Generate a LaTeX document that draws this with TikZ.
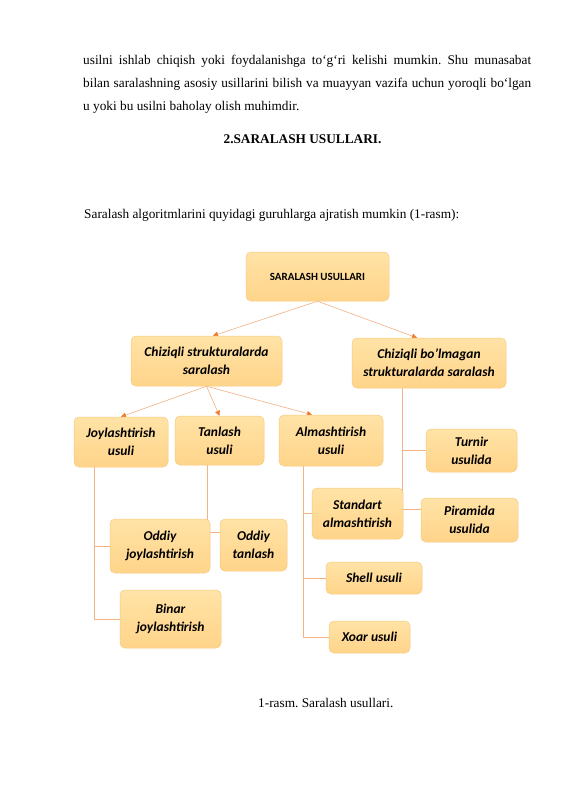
\documentclass[tikz,border=0pt]{standalone}
\usepackage{fontspec}
\setmainfont{Liberation Serif}
\newfontfamily\carlito{Carlito}
\usetikzlibrary{backgrounds,arrows.meta}
\frenchspacing
\definecolor{boxtop}{HTML}{FFE3A6}
\definecolor{boxbot}{HTML}{FFD48A}
\definecolor{boxedge}{HTML}{F8C97E}
\definecolor{linecol}{HTML}{F4B183}
\definecolor{arrcol}{HTML}{ED7D31}
\tikzset{
  box/.style={rounded corners=5pt, top color=boxtop, bottom color=boxbot, draw=boxedge, line width=0.5pt,
    font=\carlito\bfseries\itshape\fontsize{13.5}{18}\selectfont, align=center, inner sep=0pt},
  topbox/.style={box, font=\carlito\bfseries\fontsize{11}{13}\selectfont},
  conn/.style={draw=linecol, line width=0.6pt},
  arr/.style={conn, -{Triangle[length=5pt,width=5pt,fill=arrcol,color=arrcol]}},
  bodytext/.style={font=\fontsize{13.3}{22}\selectfont, inner sep=0pt, anchor=base west}
}
\begin{document}
\begin{tikzpicture}[x=1pt,y=-1pt]
\useasboundingbox (0,0) rectangle (565,800);
\begin{scope}[on background layer]
\fill[white] (0,0) rectangle (565,800);
\end{scope}
% text
\node[bodytext] (l1) at (83,65) {\makebox[448pt][s]{usilni ishlab chiqish yoki foydalanishga to‘g‘ri kelishi mumkin. Shu munasabat}};
\node[bodytext] (l2) at (83,88) {\makebox[448pt][s]{bilan saralashning asosiy usillarini bilish va muayyan vazifa uchun yoroqli bo‘lgan}};
\node[bodytext] (l3) at (83,110) {u yoki bu usilni baholay olish muhimdir.};
\node[bodytext, anchor=base, font=\fontsize{13.3}{22}\selectfont\bfseries] (head) at (302.5,143) {2.SARALASH USULLARI.};
\node[bodytext] (intro) at (84,218) {Saralash algoritmlarini quyidagi guruhlarga ajratish mumkin (1-rasm):};
\node[bodytext] (cap) at (258,707) {1-rasm. Saralash usullari.};
% boxes
\node[topbox, minimum width=143pt, minimum height=49pt] (top) at (317.5,276.5) {SARALASH USULLARI};
\node[box, minimum width=151pt, minimum height=50pt] (cs) at (206.5,361) {Chiziqli strukturalarda\\saralash};
\node[box, minimum width=154pt, minimum height=50pt] (cb) at (429,363) {Chiziqli bo’lmagan\\strukturalarda saralash};
\node[box, minimum width=94pt, minimum height=50pt] (jo) at (121,442) {Joylashtirish\\usuli};
\node[box, minimum width=89pt, minimum height=49pt] (ta) at (219.5,440.5) {Tanlash\\usuli};
\node[box, minimum width=104pt, minimum height=51pt] (al) at (331,440.5) {Almashtirish\\usuli};
\node[box, minimum width=91pt, minimum height=43pt] (tu) at (471.5,450.5) {Turnir\\usulida};
\node[box, minimum width=91pt, minimum height=51pt] (st) at (357.5,513.5) {Standart\\almashtirish};
\node[box, minimum width=97pt, minimum height=44pt] (pi) at (469.5,520) {Piramida\\usulida};
\node[box, minimum width=100pt, minimum height=54pt] (oj) at (160,546) {Oddiy\\joylashtirish};
\node[box, minimum width=67pt, minimum height=52pt] (ot) at (253.5,545) {Oddiy\\tanlash};
\node[box, minimum width=101pt, minimum height=58pt] (bi) at (170.5,619) {Binar\\joylashtirish};
\node[box, minimum width=96pt, minimum height=32pt] (sh) at (374,578) {Shell usuli};
\node[box, minimum width=81pt, minimum height=32pt] (xo) at (369.5,637) {Xoar usuli};
% connectors
\begin{scope}[on background layer]
\draw[arr] (top.south) -- ([xshift=6.5pt]cs.north);
\draw[arr] (top.south) -- ([xshift=-12pt]cb.north);
\draw[arr] (cs.south) -- (jo.north);
\draw[arr] (cs.south) -- (ta.north);
\draw[arr] (cs.south) -- ([xshift=-19pt]al.north);
\coordinate (jv) at ([xshift=-27pt]jo.south);
\draw[conn] (jv) |- (oj.west);
\draw[conn] (jv) |- (bi.west);
\coordinate (tv) at ([xshift=-12.5pt]ta.south);
\draw[conn] (tv) |- ([yshift=13pt]ot.west);
\coordinate (av) at ([xshift=-28pt]al.south);
\draw[conn] (av) |- (st.west);
\draw[conn] (av) |- (sh.west);
\draw[conn] (av) |- (xo.west);
\coordinate (cv) at ([xshift=-27pt]cb.south);
\draw[conn] (cv) |- (tu.west);
\draw[conn] (cv) |- ([yshift=11pt]pi.west);
\end{scope}
\end{tikzpicture}
\end{document}
